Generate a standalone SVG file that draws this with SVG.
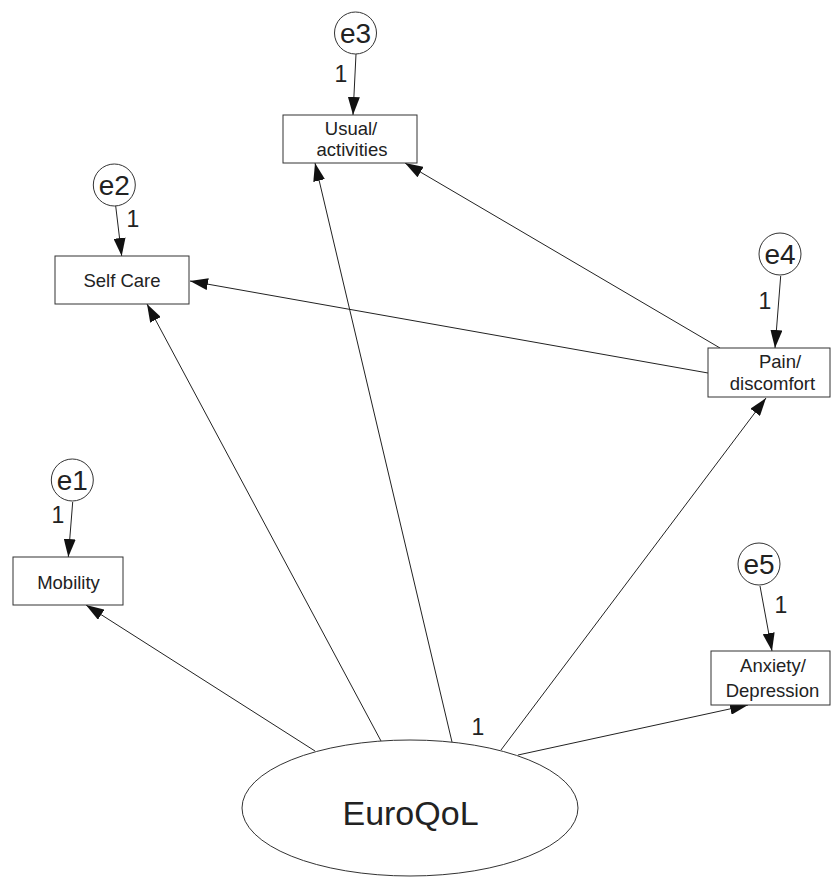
<svg xmlns="http://www.w3.org/2000/svg" width="831" height="877" viewBox="0 0 831 877">
<style>
.box{fill:#fff;stroke:#333;stroke-width:1}
.circ{fill:#fff;stroke:#333;stroke-width:1}
.lbl{font-family:"Liberation Sans",Arial,sans-serif;font-size:18.5px;fill:#222;text-anchor:middle}
.elbl{font-family:"Liberation Sans",Arial,sans-serif;font-size:28px;fill:#222;text-anchor:middle}
.one{font-family:"Liberation Sans",Arial,sans-serif;font-size:23px;fill:#222;text-anchor:middle}
.big{font-family:"Liberation Sans",Arial,sans-serif;font-size:34px;fill:#222;text-anchor:middle}
.conn line{stroke:#222;stroke-width:1;marker-end:url(#ah)}
</style>
<defs>
<marker id="ah" markerUnits="userSpaceOnUse" markerWidth="19" markerHeight="12" refX="18" refY="6" orient="auto">
<path d="M0,0 L18,6 L0,12 z" fill="#111"/>
</marker>
</defs>
<rect width="831" height="877" fill="#fff"/>
<g class="conn" id="connectors">
<line x1="356" y1="54" x2="353" y2="115"/>
<line x1="115.7" y1="206" x2="121.7" y2="256"/>
<line x1="780.7" y1="276" x2="775" y2="348"/>
<line x1="72.7" y1="502" x2="68.3" y2="557"/>
<line x1="760" y1="586" x2="772" y2="651"/>
<line x1="315" y1="751" x2="86" y2="605"/>
<line x1="381" y1="741" x2="147" y2="304"/>
<line x1="452" y1="742" x2="315" y2="163"/>
<line x1="501" y1="750" x2="766" y2="398"/>
<line x1="518" y1="755" x2="748" y2="705"/>
<line x1="720" y1="348" x2="405" y2="163"/>
<line x1="708" y1="373" x2="190" y2="281"/>
</g>
<g id="usual">
<rect class="box" x="283" y="115" width="134" height="48"/>
<text class="lbl" x="351" y="135">Usual/</text>
<text class="lbl" x="352" y="156">activities</text>
</g>
<g id="selfcare">
<rect class="box" x="55" y="256" width="134" height="48"/>
<text class="lbl" x="122" y="287">Self Care</text>
</g>
<g id="mobility">
<rect class="box" x="13" y="557" width="110" height="48"/>
<text class="lbl" x="68.5" y="589">Mobility</text>
</g>
<g id="pain">
<rect class="box" x="708" y="348" width="122" height="49"/>
<text class="lbl" x="780" y="368">Pain/</text>
<text class="lbl" x="772.5" y="390">discomfort</text>
</g>
<g id="anxiety">
<rect class="box" x="711" y="651" width="119" height="54"/>
<text class="lbl" x="773" y="672">Anxiety/</text>
<text class="lbl" x="772.5" y="697">Depression</text>
</g>
<g id="e3">
<circle class="circ" cx="355.5" cy="33" r="21"/>
<text class="elbl" x="355.5" y="43">e3</text>
</g>
<g id="e2">
<circle class="circ" cx="114.3" cy="185" r="21"/>
<text class="elbl" x="114.3" y="195">e2</text>
</g>
<g id="e4">
<circle class="circ" cx="780" cy="254" r="21"/>
<text class="elbl" x="780" y="264">e4</text>
</g>
<g id="e1">
<circle class="circ" cx="72.3" cy="480" r="21"/>
<text class="elbl" x="72.3" y="490">e1</text>
</g>
<g id="e5">
<circle class="circ" cx="759" cy="564" r="21"/>
<text class="elbl" x="759" y="574">e5</text>
</g>
<g id="labels">
<text class="one" x="341" y="82">1</text>
<text class="one" x="133" y="227">1</text>
<text class="one" x="765" y="309">1</text>
<text class="one" x="58" y="523">1</text>
<text class="one" x="781" y="613">1</text>
<text class="one" x="478" y="735">1</text>
</g>
<g id="euroqol">
<ellipse class="circ" cx="410" cy="808" rx="168" ry="68"/>
<text class="big" x="410.5" y="825">EuroQoL</text>
</g>
</svg>
